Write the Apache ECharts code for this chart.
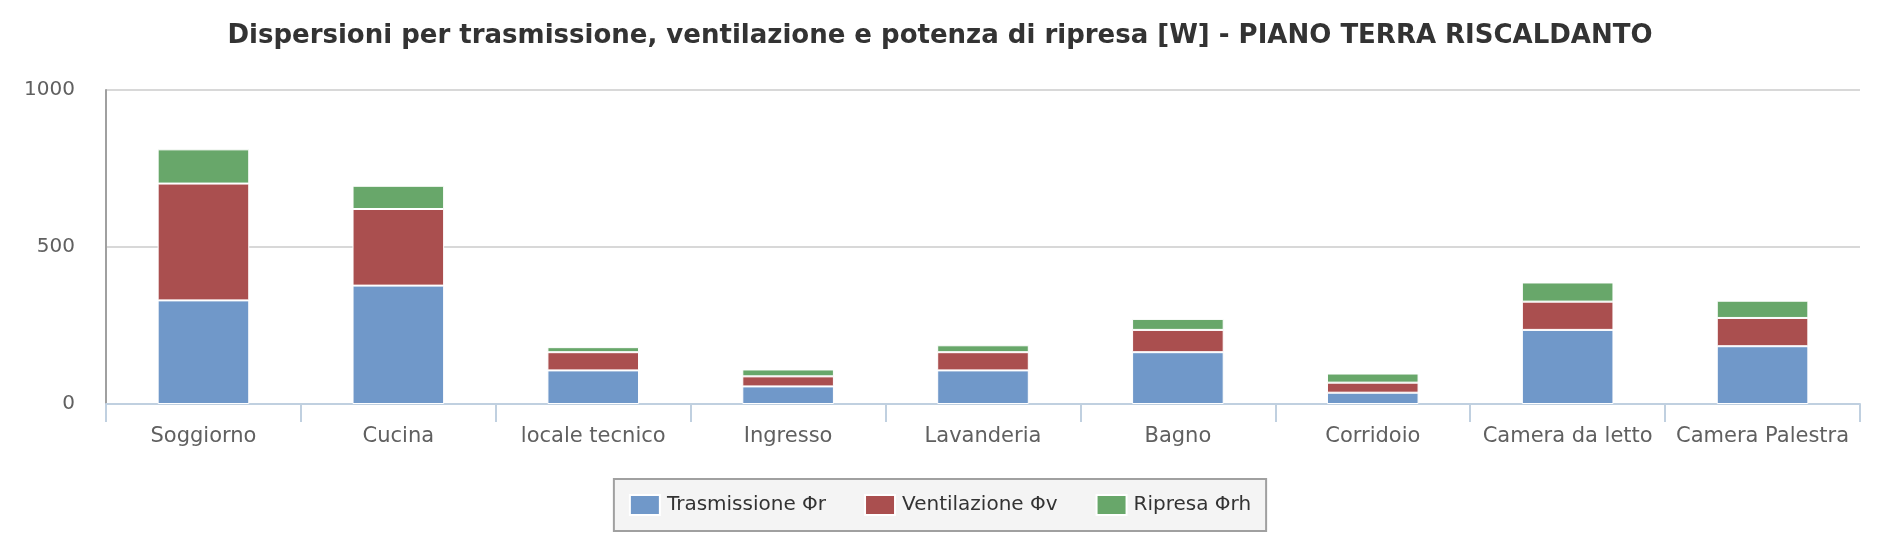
<!DOCTYPE html>
<html>
<head>
<meta charset="utf-8">
<script src="https://cdn.jsdelivr.net/npm/echarts@6/dist/echarts.min.js"></script>
<style>
html,body{margin:0;padding:0;background:#fff;}
#chart{width:1880px;height:560px;}
</style>
</head>
<body>
<div id="chart"></div>
<script>
const titleText = 'Dispersioni per trasmissione, ventilazione e potenza di ripresa [W] - PIANO TERRA RISCALDANTO';
const categories = ['Soggiorno','Cucina','locale tecnico','Ingresso','Lavanderia','Bagno','Corridoio','Camera da letto','Camera Palestra'];
const trasmissione = [330, 377, 107, 56, 107, 165, 36, 236, 184];
const ventilazione = [372, 244, 58, 32, 58, 71, 32, 90, 90];
const ripresa = [109, 74, 16, 22, 22, 35, 29, 61, 55];
const seriesNames = ['Trasmissione \u03A6r','Ventilazione \u03A6v','Ripresa \u03A6rh'];
const yTicks = [0, 500, 1000];

const FONT = 'DejaVu Sans';
const colors = ['#7098c9','#aa4f4f','#68a76a'];

const chart = echarts.init(document.getElementById('chart'));
const mk = (name, data, i) => ({
  name, type: 'bar', stack: 'total', data,
  barCategoryGap: '53%',
  itemStyle: { color: colors[i], borderColor: '#ffffff', borderWidth: 1 },
  emphasis: { disabled: true }
});
chart.setOption({
  animation: false,
  textStyle: { fontFamily: FONT },
  title: {
    text: titleText, left: 'center', top: 18,
    textStyle: { fontFamily: FONT, fontSize: 26, fontWeight: 'bold', color: '#333333' }
  },
  legend: {
    left: 'center', top: 479,
    padding: [15, 15, 15, 15],
    itemGap: 38, itemWidth: 30, itemHeight: 20,
    backgroundColor: '#f4f4f4', borderColor: '#a0a0a0', borderWidth: 2, borderRadius: 0,
    textStyle: { fontFamily: FONT, fontSize: 20, color: '#333333', padding: [0,0,0,2] },
    icon: 'rect',
    data: seriesNames
  },
  grid: { left: 106, right: 20, top: 90, bottom: 156, containLabel: false },
  xAxis: {
    type: 'category', data: categories,
    axisLine: { lineStyle: { color: '#c0d0e0', width: 2 } },
    axisTick: { show: true, length: 18, lineStyle: { color: '#c0d0e0', width: 2 } },
    axisLabel: { fontFamily: FONT, fontSize: 21, color: '#606060', margin: 22, interval: 0 }
  },
  yAxis: {
    type: 'value', min: yTicks[0], max: yTicks[yTicks.length-1], interval: yTicks[1]-yTicks[0],
    axisLine: { show: true, lineStyle: { color: '#a0a0a0', width: 2 } },
    axisTick: { show: false },
    splitLine: { lineStyle: { color: '#d8d8d8', width: 2 } },
    axisLabel: { fontFamily: FONT, fontSize: 20, color: '#606060', margin: 31, formatter: v => String(v) }
  },
  series: [
    mk(seriesNames[0], trasmissione, 0),
    mk(seriesNames[1], ventilazione, 1),
    mk(seriesNames[2], ripresa, 2)
  ]
});
</script>
</body>
</html>
